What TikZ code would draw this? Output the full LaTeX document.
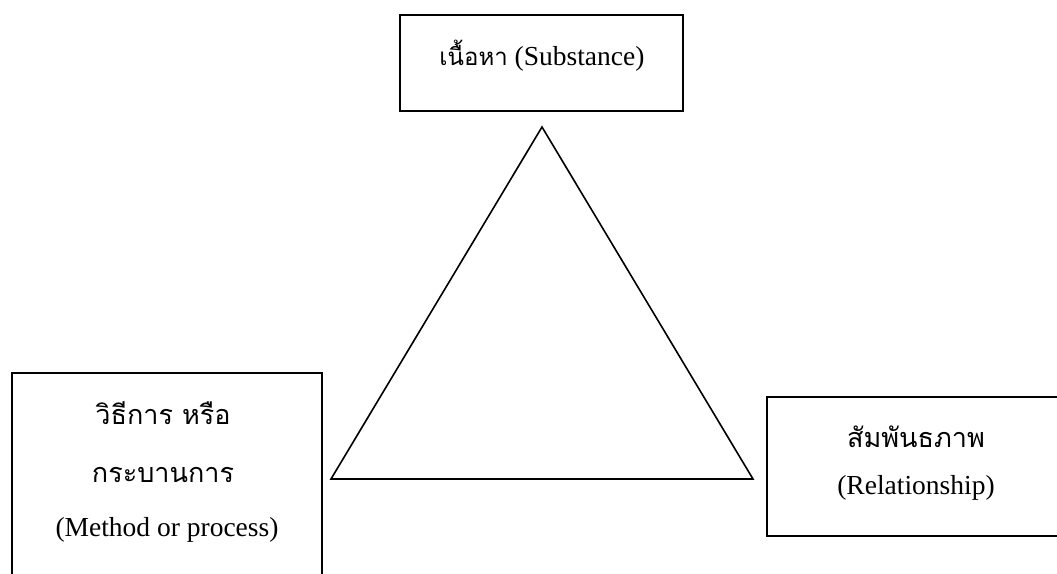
\documentclass[tikz,border=0pt]{standalone}
\usepackage{fontspec}
\setmainfont{Liberation Serif}
\newfontfamily\thaifont[Script=Thai]{Loma}
\begin{document}
\begin{tikzpicture}[x=0.5pt,y=-0.5pt,
  box/.style={draw=black, line width=0.8pt, inner sep=0pt},
  lbl/.style={anchor=base, inner sep=0pt, font=\fontsize{13.75pt}{16pt}\selectfont},
  thai/.style={anchor=base, inner sep=0pt, font=\fontsize{13.5pt}{16pt}\selectfont\thaifont}]
\useasboundingbox (0,0) rectangle (1057,574);
\clip (0,0) rectangle (1057,574);
% boxes
\node[box, minimum width=141.5pt, minimum height=48pt] (topbox) at (541.5,63) {};
\node[box, minimum width=155pt, minimum height=110pt] (leftbox) at (167,483) {};
\node[box, minimum width=150pt, minimum height=69.5pt] (rightbox) at (917,466.5) {};
% triangle
\coordinate (apex) at (542,127);
\coordinate (bl) at (331,479);
\coordinate (br) at (753,479);
\draw[line width=0.8pt, line join=miter] (apex) -- (bl) -- (br) -- cycle;
% texts
\node[lbl] (toptext) at (542,65) {{\thaifont\fontsize{12pt}{14pt}\selectfont เนื้อหา} (Substance)};
\node[thai] (l1) at (163,424) {วิธีการ หรือ};
\node[thai] (l2) at (163,482) {กระบานการ};
\node[lbl] (l3) at (167,536) {(Method or process)};
\node[thai] (r1) at (916,447) {สัมพันธภาพ};
\node[lbl] (r2) at (916,494) {(Relationship)};
\end{tikzpicture}
\end{document}
